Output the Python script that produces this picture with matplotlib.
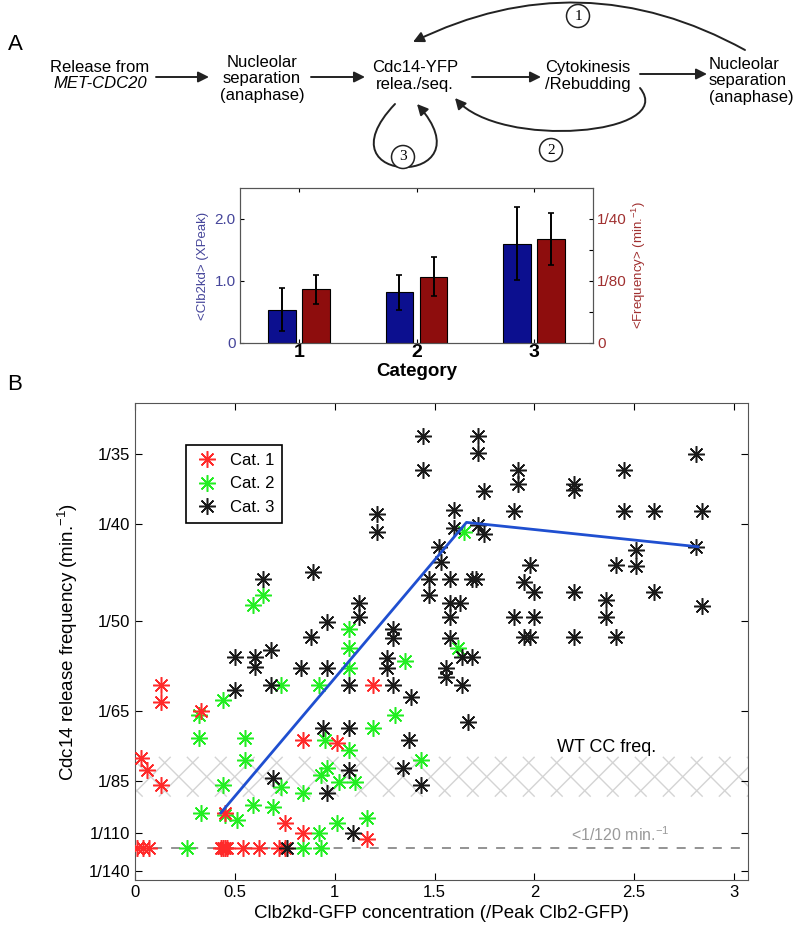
import numpy as np
import matplotlib.pyplot as plt
from matplotlib.patches import Circle, FancyArrowPatch
from matplotlib.path import Path

plt.rcParams['font.family'] = ['Liberation Sans', 'DejaVu Sans']
plt.rcParams['mathtext.default'] = 'regular'

# ---- panel A bar chart data
categories = [1, 2, 3]
clb2_mean = [0.54, 0.82, 1.60]
clb2_err = [0.34, 0.28, 0.59]
freq_mean = [0.0108, 0.0134, 0.0210]   # min^-1
freq_err = [0.0029, 0.0040, 0.0053]

# ---- panel B scatter data: Clb2kd conc. and release period (min)
cat1_x = [0.13, 0.13, 0.33, 1.19, 0.03, 0.06, 0.13, 0.84, 1.01, 0.45, 0.75, 0.84, 1.16,
          0.01, 0.04, 0.07, 0.43, 0.44, 0.45, 0.46, 0.54, 0.62, 0.72, 0.75]
cat1_T = [59.8, 63.1, 65.0, 59.8, 77.3, 81.0, 86.4, 72.0, 72.9, 98.9, 104.2, 110.1, 113.8,
          120, 120, 120, 120, 120, 120, 120, 120, 120, 120, 120]

cat2_x = [0.64, 0.59, 1.07, 1.07, 1.07, 0.73, 0.92, 1.35, 1.65, 1.62, 0.44, 0.32, 0.32,
          0.55, 0.55, 0.95, 1.07, 1.19, 1.30, 1.43, 0.44, 0.96, 0.93, 1.02, 1.10, 0.84,
          0.73, 0.59, 0.69, 0.33, 0.51, 0.45, 1.01, 1.16, 0.92, 0.26, 0.84, 0.93]
cat2_T = [46.9, 48.0, 51.0, 53.8, 56.9, 59.8, 59.8, 55.8, 40.7, 53.8, 62.7, 65.9, 71.6,
          71.6, 77.8, 72.0, 74.8, 69.0, 65.9, 77.8, 86.4, 80.5, 82.8, 85.2, 85.2, 89.8,
          87.1, 94.9, 95.7, 98.9, 102.4, 99.7, 104.2, 101.5, 110.1, 120, 120, 120]

cat3_x = [1.44, 1.44, 1.72, 1.72, 1.75, 1.21, 1.21, 1.60, 1.60, 1.72, 1.75, 1.52, 1.53,
          1.47, 1.58, 1.69, 1.71, 1.47, 1.58, 1.63, 1.58, 1.58, 1.64, 1.69, 1.56, 1.56,
          1.64, 1.67,
          1.92, 1.92, 1.90, 1.98, 1.95, 2.00, 1.90, 2.00, 1.95, 1.98, 2.20, 2.20, 2.20,
          2.20, 2.36, 2.36, 2.41, 2.41, 2.45, 2.45, 2.51, 2.51, 2.60, 2.60, 2.81, 2.84,
          2.81, 2.84,
          0.64, 0.89, 1.12, 1.12, 0.96, 0.88, 0.50, 0.60, 0.60, 0.68, 0.83, 0.96, 1.29,
          1.29, 1.26, 1.26, 0.68, 1.07, 1.29, 0.50, 1.38, 0.94, 1.07, 1.37, 1.07, 1.34,
          1.43, 0.96, 0.69, 1.09, 0.76]
cat3_T = [33.9, 36.0, 33.9, 34.9, 37.5, 39.2, 40.7, 38.9, 40.4, 40.1, 40.9, 42.0, 43.4,
          45.1, 45.1, 45.1, 45.1, 46.9, 47.8, 47.8, 49.5, 52.3, 55.1, 55.1, 56.9, 58.4,
          59.8, 67.5,
          36.0, 37.0, 39.0, 43.7, 45.5, 46.5, 49.5, 49.5, 52.1, 52.1, 37.0, 37.4, 46.5,
          52.1, 47.4, 49.5, 52.1, 43.7, 36.0, 39.0, 42.3, 43.8, 39.0, 46.5, 35.0, 39.0,
          42.0, 48.2,
          45.1, 44.4, 47.8, 49.5, 50.1, 52.1, 55.1, 55.1, 56.7, 54.0, 56.9, 56.9, 51.0,
          52.3, 55.3, 56.9, 59.8, 59.8, 59.8, 60.8, 62.1, 69.0, 69.0, 72.0, 81.0, 80.5,
          86.4, 89.8, 83.9, 110.1, 120]

fit_x = [0.43, 1.66, 2.82]
fit_T = [98.7, 39.9, 42.0]

ytick_T = [140, 110, 85, 65, 50, 40, 35]
xticks = [0, 0.5, 1, 1.5, 2, 2.5, 3]
wt_band_T = (91, 77)
cutoff_T = 120

fig = plt.figure(figsize=(8, 9.35), dpi=100)

# ---- schematic (pixel coordinates overlay)
ov = fig.add_axes([0, 0, 1, 1])
ov.set_xlim(0, 800)
ov.set_ylim(935, 0)
ov.axis('off')

ov.text(15, 45, 'A', fontsize=16, va='center', ha='center')
ov.text(15, 384, 'B', fontsize=16, va='center', ha='center')

fs = 12
ov.text(100, 67, 'Release from', fontsize=fs, ha='center', va='center')
ov.text(100, 84, 'MET-CDC20', fontsize=fs, ha='center', va='center', style='italic')
ov.text(262, 79, 'Nucleolar\nseparation\n(anaphase)', fontsize=fs, ha='center', va='center',
        linespacing=1.15)
ov.text(415, 76, 'Cdc14-YFP\nrelea./seq.', fontsize=fs, ha='center', va='center', linespacing=1.15)
ov.text(588, 76, 'Cytokinesis\n/Rebudding', fontsize=fs, ha='center', va='center', linespacing=1.15)
ov.text(709, 81, 'Nucleolar\nseparation\n(anaphase)', fontsize=fs, ha='left', va='center',
        linespacing=1.15)

def arr(p0, p1, **kw):
    a = FancyArrowPatch(p0, p1, arrowstyle='-|>', mutation_scale=16, lw=1.4,
                        color='#222222', shrinkA=0, shrinkB=0, **kw)
    ov.add_patch(a)

arr((156, 77), (209, 77))
arr((311, 77), (365, 77))
arr((472, 77), (541, 77))
arr((640, 74), (707, 74))
arr((745, 50), (413, 42), connectionstyle='arc3,rad=0.26')

p2 = Path([(640, 88), (678, 135), (500, 150), (455, 98)],
          [Path.MOVETO, Path.CURVE4, Path.CURVE4, Path.CURVE4])
ov.add_patch(FancyArrowPatch(path=p2, arrowstyle='-|>', mutation_scale=16, lw=1.4, color='#222222'))
p3 = Path([(395, 104), (315, 188), (492, 188), (417, 104)],
          [Path.MOVETO, Path.CURVE4, Path.CURVE4, Path.CURVE4])
ov.add_patch(FancyArrowPatch(path=p3, arrowstyle='-|>', mutation_scale=16, lw=1.4, color='#222222'))

for (cx, cy, lab) in [(578, 16, '1'), (551, 150, '2'), (403, 157, '3')]:
    ov.add_patch(Circle((cx, cy), 11.5, fill=True, fc='white', ec='#222222', lw=1.1, zorder=3))
    ov.text(cx, cy, lab, fontsize=11, ha='center', va='center', family='Liberation Serif', zorder=4)

# ---- bar chart
blue = '#0c0f8f'
dred = '#8e0d0d'
axb = fig.add_axes([240 / 800, 1 - 343 / 935, 353 / 800, 155 / 935])
axr = axb.twinx()
pos = np.array(categories)
axb.bar(pos - 0.145, clb2_mean, 0.235, color=blue, edgecolor='black', lw=0.8)
axb.errorbar(pos - 0.145, clb2_mean, yerr=clb2_err, fmt='none', ecolor='black', elinewidth=1.4,
             capsize=2.5, capthick=1.2)
axr.bar(pos + 0.145, freq_mean, 0.235, color=dred, edgecolor='black', lw=0.8)
axr.errorbar(pos + 0.145, freq_mean, yerr=freq_err, fmt='none', ecolor='black', elinewidth=1.4,
             capsize=2.5, capthick=1.2)
axb.set_xlim(0.5, 3.5)
axb.set_ylim(0, 2.5)
axr.set_ylim(0, 2.5 / 80)
axb.set_yticks([0, 1, 2])
axb.set_yticklabels(['0', '1.0', '2.0'], color='#45459a', fontsize=11)
axr.set_yticks([0, 1 / 160, 1 / 80, 3 / 160, 1 / 40])
axr.set_yticklabels(['0', '', '1/80', '', '1/40'], color='#a03030', fontsize=11)
axb.set_xticks(pos)
axb.set_xticklabels([str(c) for c in categories], fontsize=14, fontweight='bold')
axb.tick_params(axis='x', direction='in', top=True, length=3, pad=1)
axb.tick_params(axis='y', direction='in', length=3, pad=3)
axr.tick_params(axis='y', direction='in', length=3, pad=3)
axb.set_xlabel('Category', fontsize=13.5, fontweight='bold', labelpad=1)
axb.set_ylabel('<Clb2kd> (XPeak)', color='#45459a', fontsize=9.5, labelpad=4)
axr.set_ylabel('<Frequency> (min.$^{-1}$)', color='#a03030', fontsize=9.5, labelpad=2)
for a in (axb, axr):
    for s in a.spines.values():
        s.set_color('#555555')

# ---- scatter
axs = fig.add_axes([135 / 800, 1 - 880 / 935, 613 / 800, 477 / 935])
x0, x1 = 0, 3.07
y0, y1 = 0.00668, 0.0312
axs.set_xlim(x0, x1)
axs.set_ylim(y0, y1)

# hatched WT band drawn as 45 deg lines
bbox = axs.get_position()
xs_px = bbox.width * 800 / (x1 - x0)
ys_px = bbox.height * 935 / (y1 - y0)
f_lo, f_hi = 1 / wt_band_T[0], 1 / wt_band_T[1]
hpx = (f_hi - f_lo) * ys_px
step = 28 / xs_px
for xx in np.arange(x0 - 1, x1 + 1, step):
    axs.plot([xx, xx + hpx / xs_px], [f_lo, f_hi], color='#d4d4d4', lw=1, zorder=1)
    axs.plot([xx + hpx / xs_px, xx], [f_lo, f_hi], color='#d4d4d4', lw=1, zorder=1)

axs.axhline(1 / cutoff_T, color='#8a8a8a', lw=1.3, ls=(0, (5, 5)), zorder=1)

star = (8, 2, 0)
axs.plot(cat2_x, 1 / np.array(cat2_T), ls='none', marker=star, ms=12, mew=1.1, color='#22ee22',
         label='Cat. 2', zorder=2)
axs.plot(cat1_x, 1 / np.array(cat1_T), ls='none', marker=star, ms=12, mew=1.1, color='#ff2a2a',
         label='Cat. 1', zorder=3)
axs.plot(cat3_x, 1 / np.array(cat3_T), ls='none', marker=star, ms=12, mew=1.1, color='#1a1a1a',
         label='Cat. 3', zorder=4)
axs.plot(fit_x, 1 / np.array(fit_T), color='#1f4fd0', lw=2, zorder=5)

h, l = axs.get_legend_handles_labels()
order = [1, 0, 2]
leg = axs.legend([h[i] for i in order], [l[i] for i in order], loc='upper left',
                 bbox_to_anchor=(0.07, 0.93), fontsize=12, fancybox=False, edgecolor='black',
                 framealpha=1, borderpad=0.5, handletextpad=0.6, handlelength=1.5)
leg.get_frame().set_linewidth(1.2)

axs.text(2.36, 1 / 74, 'WT CC freq.', fontsize=13, ha='center', va='center')
axs.text(2.43, 1 / 111, '<1/120 min.$^{-1}$', fontsize=11.5, ha='center', va='center', color='#9a9a9a')

axs.set_yticks(1 / np.array(ytick_T))
axs.set_yticklabels(['1/%d' % t for t in ytick_T], fontsize=12)
axs.set_xticks(xticks)
axs.set_xticklabels(['%g' % t for t in xticks], fontsize=12)
axs.tick_params(direction='in', top=True, right=True, length=5)
for s in axs.spines.values():
    s.set_color('#555555')
axs.set_xlabel('Clb2kd-GFP concentration (/Peak Clb2-GFP)', fontsize=13.5, labelpad=4)
axs.set_ylabel('Cdc14 release frequency (min.$^{-1}$)', fontsize=13.5, labelpad=6)

fig.savefig('out.png', dpi=100)
